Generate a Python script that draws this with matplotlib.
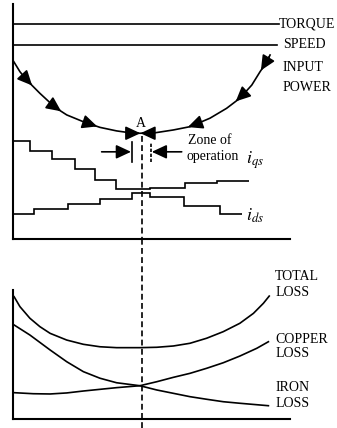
import numpy as np
import matplotlib.pyplot as plt

plt.rcParams['font.family'] = ['Liberation Serif', 'DejaVu Serif']
plt.rcParams['mathtext.fontset'] = 'stix'

# operating point (flux level where input power is minimum)
x_opt = 46.6

# constant torque and speed levels
torque_level = 91.5
speed_level = 82.6

# input power vs flux level
power_x = [0.0, 2.5, 4.9, 9.7, 15.2, 19.4, 25.4, 31.4, 37.4, 43.4, 45.8,
           51.3, 57.9, 63.9, 71.1, 77.1, 81.9, 86.2, 89.2, 91.6, 92.8]
power_y = [76.0, 71.2, 67.7, 62.0, 56.0, 52.8, 49.9, 47.5, 46.0, 45.0, 45.0,
           45.2, 46.4, 47.8, 51.4, 55.6, 59.9, 65.5, 71.2, 75.4, 78.3]
power_arrows_down = [5.4, 15.9, 28.9]
power_arrows_up = [64.6, 81.9, 91.0]

# stepped stator currents
iqs_edges = [0.0, 6.1, 14.1, 22.4, 29.6, 37.2, 49.5, 62.1, 73.5, 85.2]
iqs_levels = [41.8, 37.6, 34.0, 29.7, 25.1, 21.3, 21.9, 24.0, 24.8]
ids_edges = [0.0, 7.6, 19.9, 31.4, 42.9, 49.5, 61.7, 74.7, 82.7]
ids_levels = [10.5, 12.8, 14.9, 16.9, 19.7, 17.7, 14.2, 10.6]

# losses vs flux level
total_x = [0.4, 2.5, 6.1, 9.7, 13.4, 19.4, 25.4, 31.4, 37.4, 45.8, 51.9,
           57.9, 63.9, 69.9, 75.9, 81.9, 86.8, 90.4, 92.5]
total_y = [94.8, 87.1, 78.1, 71.6, 66.4, 61.2, 57.9, 56.0, 55.3, 55.3, 55.6,
           56.6, 58.7, 62.6, 67.7, 74.2, 81.9, 89.7, 95.3]
iron_x = [0.4, 6.1, 13.4, 19.4, 25.4, 31.4, 37.4, 45.8, 51.9, 57.9, 63.9,
          69.9, 75.9, 81.9, 92.2]
iron_y = [72.9, 65.1, 53.5, 44.4, 36.7, 31.6, 28.1, 25.8, 22.5, 19.9, 17.3,
          15.3, 13.4, 12.2, 10.3]
copper_x = [0.4, 7.3, 13.4, 19.4, 25.4, 31.4, 37.4, 45.8, 51.9, 57.9, 63.9,
            69.9, 75.9, 81.9, 88.0, 92.2]
copper_y = [20.4, 19.6, 19.4, 20.2, 21.7, 23.0, 24.3, 25.8, 28.9, 32.3, 35.4,
            39.3, 43.6, 48.8, 54.8, 59.9]

LW = 1.2
FS = 10
head = '-|>,head_length=0.6,head_width=0.28'


def arrow(ax, start, end, scale=15):
    ax.annotate('', xy=end, xytext=start,
                arrowprops=dict(arrowstyle=head, mutation_scale=scale,
                                color='k', lw=LW, shrinkA=0, shrinkB=0))


def curve_arrow(ax, xs, ys, x0, step):
    x1 = x0 + step
    arrow(ax, (x0, np.interp(x0, xs, ys)), (x1, np.interp(x1, xs, ys)))


fig = plt.figure(figsize=(3.37, 4.28), dpi=100)
ax1 = fig.add_axes([13 / 337, 189 / 428, 277 / 337, 235 / 428])
ax2 = fig.add_axes([13 / 337, 9 / 428, 277 / 337, 129 / 428])

for ax in (ax1, ax2):
    ax.set_xlim(0, 100)
    ax.set_ylim(0, 100)
    ax.set_xticks([])
    ax.set_yticks([])
    ax.spines['top'].set_visible(False)
    ax.spines['right'].set_visible(False)
    ax.spines['left'].set_linewidth(1.5)
    ax.spines['bottom'].set_linewidth(1.5)
    ax.patch.set_visible(False)

######################################################################
# upper panel: torque, speed, input power, currents

ax1.plot([0, 96], [torque_level, torque_level], 'k-', lw=LW)
ax1.plot([0, 95.2], [speed_level, speed_level], 'k-', lw=LW)
ax1.text(96.0, torque_level, 'TORQUE', ha='left', va='center', fontsize=FS)
ax1.text(97.4, speed_level, 'SPEED', ha='left', va='center', fontsize=FS)

ax1.plot(power_x, power_y, 'k-', lw=LW)
ax1.text(97.4, 72.8, 'INPUT', ha='left', va='center', fontsize=FS)
ax1.text(97.4, 64.6, 'POWER', ha='left', va='center', fontsize=FS)

for xa in power_arrows_down:
    curve_arrow(ax1, power_x, power_y, xa - 1.5, 3.0)
for xa in power_arrows_up:
    curve_arrow(ax1, power_x, power_y, xa + 1.5, -3.0)

# point A
y_min = np.interp(x_opt - 0.6, power_x, power_y)
arrow(ax1, (41.5, y_min), (x_opt - 0.6, y_min))
arrow(ax1, (50.5, y_min), (x_opt - 0.6, y_min))
ax1.text(46.2, 49.3, 'A', ha='center', va='center', fontsize=FS)

# zone of operation
ax1.plot([42.9, 42.9], [32.9, 41.4], 'k-', lw=LW)
ax1.plot([49.8, 49.8], [32.9, 41.4], 'k', lw=LW, ls=(0, (2, 1)))
arrow(ax1, (32.0, 37.1), (42.6, 37.1))
arrow(ax1, (60.9, 37.1), (50.1, 37.1))
ax1.text(63.0, 41.9, 'Zone of', ha='left', va='center', fontsize=FS)
ax1.text(62.7, 35.3, 'operation', ha='left', va='center', fontsize=FS)

ax1.stairs(iqs_levels, iqs_edges, baseline=None, color='k', lw=LW)
ax1.stairs(ids_levels, ids_edges, baseline=None, color='k', lw=LW)
ax1.text(84.0, 33.5, r'$i_{qs}$', ha='left', va='center', fontsize=13)
ax1.text(84.0, 10.0, r'$i_{ds}$', ha='left', va='center', fontsize=13)

ax1.plot([x_opt, x_opt], [43.8, 0], 'k', lw=LW, ls=(0, (3.5, 2)),
         clip_on=False)

######################################################################
# lower panel: losses

ax2.plot(total_x, total_y, 'k-', lw=LW)
ax2.plot(iron_x, iron_y, 'k-', lw=LW)
ax2.plot(copper_x, copper_y, 'k-', lw=LW)

ax2.text(94.6, 110.3, 'TOTAL', ha='left', va='center', fontsize=FS)
ax2.text(94.6, 97.9, 'LOSS', ha='left', va='center', fontsize=FS)
ax2.text(94.6, 61.8, 'COPPER', ha='left', va='center', fontsize=FS)
ax2.text(94.6, 50.9, 'LOSS', ha='left', va='center', fontsize=FS)
ax2.text(94.6, 24.6, 'IRON', ha='left', va='center', fontsize=FS)
ax2.text(94.6, 12.2, 'LOSS', ha='left', va='center', fontsize=FS)

ax2.plot([x_opt, x_opt], [-7, 139.5], 'k', lw=LW, ls=(0, (3.5, 2)),
         clip_on=False)

fig.savefig('out.png', dpi=100)
